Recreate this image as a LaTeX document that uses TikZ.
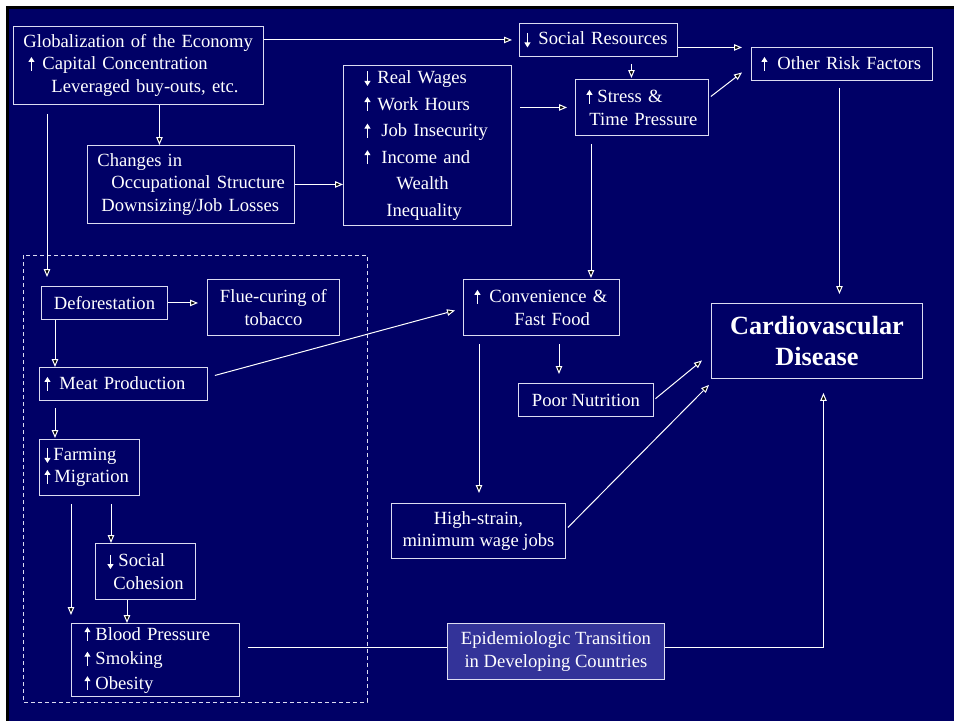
\documentclass[tikz,border=0pt]{standalone}
\usepackage{fontspec}
\setmainfont{Liberation Serif}
\usetikzlibrary{arrows.meta,calc}

\definecolor{slide}{HTML}{000066}
\definecolor{hilite}{HTML}{333399}
\definecolor{frame}{HTML}{DCDCF2}

% no hyphenation inside the boxes
\newcommand\nohyph{\hyphenpenalty=10000\exhyphenpenalty=10000\relax}

\tikzset{
  box/.style={rectangle, draw=frame, line width=0.9pt, text=white, inner sep=0pt, anchor=north west,
    font=\fontsize{18.6}{22.5}\selectfont\nohyph},
  boxsize/.style 2 args={minimum width=#1pt, minimum height=#2pt},
  tw/.style={text width=#1pt, align=left},
  conn/.style={draw=white, line width=1pt, -{Triangle[length=8pt,width=6.5pt]}},
  link/.style={draw=white, line width=1pt},
  region/.style={draw=frame, line width=1pt, dash pattern=on 4pt off 3pt},
  tick/.style={white, line width=1pt, -{Triangle[length=5pt,width=6pt]}},
}
% small up / down arrows in front of the items
\newcommand\upa{\makebox[6pt]{\tikz[baseline=0pt]\draw[tick] (0pt,-1pt) -- (0pt,13pt);}}
\newcommand\dna{\makebox[6pt]{\tikz[baseline=0pt]\draw[tick] (0pt,12pt) -- (0pt,-2.5pt);}}

\begin{document}
\begin{tikzpicture}[x=1pt, y=-1pt]
\useasboundingbox (0,0) rectangle (954,721);
\fill[white] (0,0) rectangle (954,721);
\fill[black] (6,6) rectangle (954,721);
\fill[slide] (9,9) rectangle (954,721);

% dashed frame
\draw[region] (23,255) rectangle (367,702);

% top part
\node[box, boxsize={250}{78}, tw=230] (glob) at (13,26)
  {Globalization~of~the~Economy\\ \hspace*{5pt}\upa\hspace{8pt}Capital~Concentration\\ \hspace*{28pt}Leveraged~buy-outs,~etc.};
\node[box, boxsize={207}{78}, tw=187] (chg) at (87,145)
  {Changes~in\\ \hspace*{14pt}Occupational~Structure\\ \hspace*{4pt}Downsizing/Job~Losses};
\node[box, boxsize={168}{160}, tw=126, font=\fontsize{18.6}{26.6}\selectfont\nohyph] (wages) at (343,65)
  {\dna\hspace{7pt}Real~Wages\\ \upa\hspace{7pt}Work~Hours\\ \upa\hspace{11pt}Job~Insecurity\\
   \upa\hspace{11pt}Income~and\\ \hspace*{32pt}Wealth\\ \hspace*{22pt}Inequality};
\node[box, boxsize={158}{33}, tw=148] (social) at (519,23) {\dna\hspace{8pt}Social~Resources};
\node[box, boxsize={133}{56}, tw=111] (stress) at (575,79) {\upa\hspace{5pt}Stress~\&\\ \hspace*{3pt}Time~Pressure};
\node[box, boxsize={181}{33}, tw=161] (other) at (751,47) {\mbox{\upa\hspace{10pt}Other Risk Factors}};

% middle
\node[box, boxsize={156}{56}, tw=134] (conv) at (463,279) {\upa\hspace{9pt}Convenience~\&\\ \hspace*{40pt}Fast~Food};
\node[box, boxsize={135}{33}, align=center] (poor) at (518,383) {Poor Nutrition};
\node[box, boxsize={174}{55}, align=center] (high) at (391,503) {High-strain,\\minimum wage jobs};
\node[box, boxsize={211}{75}, align=center, font=\fontsize{26.3}{31}\selectfont\bfseries] (cvd) at (711,303)
  {Cardiovascular\\Disease};
\node[box, boxsize={217}{56}, align=center, fill=hilite] (epi) at (447,623)
  {Epidemiologic Transition\\in Developing Countries};

% developing countries
\node[box, boxsize={126}{33}, align=center] (defo) at (41,286) {Deforestation};
\node[box, boxsize={132}{56}, align=center] (flue) at (207,279) {Flue-curing of\\tobacco};
\node[box, boxsize={168}{33}, tw=158] (meat) at (39,367) {\upa\hspace{9pt}Meat~Production};
\node[box, boxsize={100}{56}, tw=90] (farm) at (39,439) {\dna\hspace{3pt}Farming\\ \upa\hspace{4pt}Migration};
\node[box, boxsize={100}{56}, tw=76] (cohes) at (95,543) {\dna\hspace{5pt}Social\\ \hspace*{6pt}Cohesion};
\node[box, boxsize={168}{73}, tw=142, font=\fontsize{18.6}{24.5}\selectfont\nohyph] (bp) at (71,623)
  {\upa\hspace{5pt}Blood~Pressure\\ \upa\hspace{5pt}Smoking\\ \upa\hspace{5pt}Obesity};

% arrows, top part
\draw[conn, shorten >=7pt] (glob.east |- social.west) -- (social.west);
\draw[conn] ([xshift=21pt]glob.south) -- ([xshift=21pt]glob.south |- chg.north);
\draw[conn, shorten <=9pt, shorten >=9pt] ([xshift=34pt]glob.south west) -- ([xshift=34pt]glob.south west |- defo.north);
\draw[conn] (chg.east) -- (chg.east -| wages.west);
\draw[conn, shorten <=8pt, shorten >=8pt] (wages.east |- stress.west) -- (stress.west);
\draw[conn, shorten >=9pt] ([yshift=-7.5pt]social.east) -- ([yshift=-7.5pt]social.east -| other.west);
\draw[conn, shorten <=7pt, shorten >=1pt] ([xshift=-10.5pt]stress.north |- social.south) -- ([xshift=-10.5pt]stress.north);
\draw[conn] ([xshift=2pt,yshift=11pt]stress.east) -- ([xshift=-9pt,yshift=-8.5pt]other.west);
\draw[conn, shorten <=7pt, shorten >=9pt] ([xshift=-2.5pt]other.south) -- ([xshift=-2.5pt]other.south |- cvd.north);
\draw[conn, shorten <=8pt, shorten >=1pt] ([xshift=16pt]stress.south west) -- ([xshift=16pt]stress.south west |- conv.north);

% arrows, middle
\draw[conn] ([xshift=7pt,yshift=8.5pt]meat.east) -- ([xshift=-8pt,yshift=-3pt]conv.west);
\draw[conn, shorten <=8pt, shorten >=9pt] ([xshift=41pt]poor.north west |- conv.south) -- ([xshift=41pt]poor.north west);
\draw[conn, shorten <=2pt] (poor.east) -- ([xshift=-9pt,yshift=-19.5pt]cvd.west);
\draw[conn, shorten <=8pt, shorten >=10pt] ([xshift=16pt]conv.south west) -- ([xshift=16pt]conv.south west |- high.north);
\draw[conn] ([xshift=2pt,yshift=3.5pt]high.east) -- ([xshift=-2pt,yshift=-6pt]cvd.south west);
\draw[conn, shorten >=14pt] ([yshift=4pt]epi.east) -| ([xshift=6.5pt]cvd.south);
\draw[link, shorten <=8pt] ([yshift=12.5pt]bp.east) -- ([yshift=12.5pt]bp.east -| epi.west);

% arrows, developing countries
\draw[conn, shorten >=9pt] (defo.east) -- (defo.east -| flue.west);
\draw[conn] ([xshift=14pt]defo.south west) -- ([xshift=14pt]defo.south west |- meat.north);
\draw[conn, shorten <=7pt, shorten >=1pt] ([xshift=16pt]meat.south west) -- ([xshift=16pt]meat.south west |- farm.north);
\draw[conn, shorten <=8pt, shorten >=8pt] ([xshift=32pt]farm.south west) -- ([xshift=32pt]farm.south west |- bp.north);
\draw[conn, shorten <=8pt] ([xshift=72pt]farm.south west) -- ([xshift=72pt]farm.south west |- cohes.north);
\draw[conn] ([xshift=32pt]cohes.south west) -- ([xshift=32pt]cohes.south west |- bp.north);
\end{tikzpicture}
\end{document}
